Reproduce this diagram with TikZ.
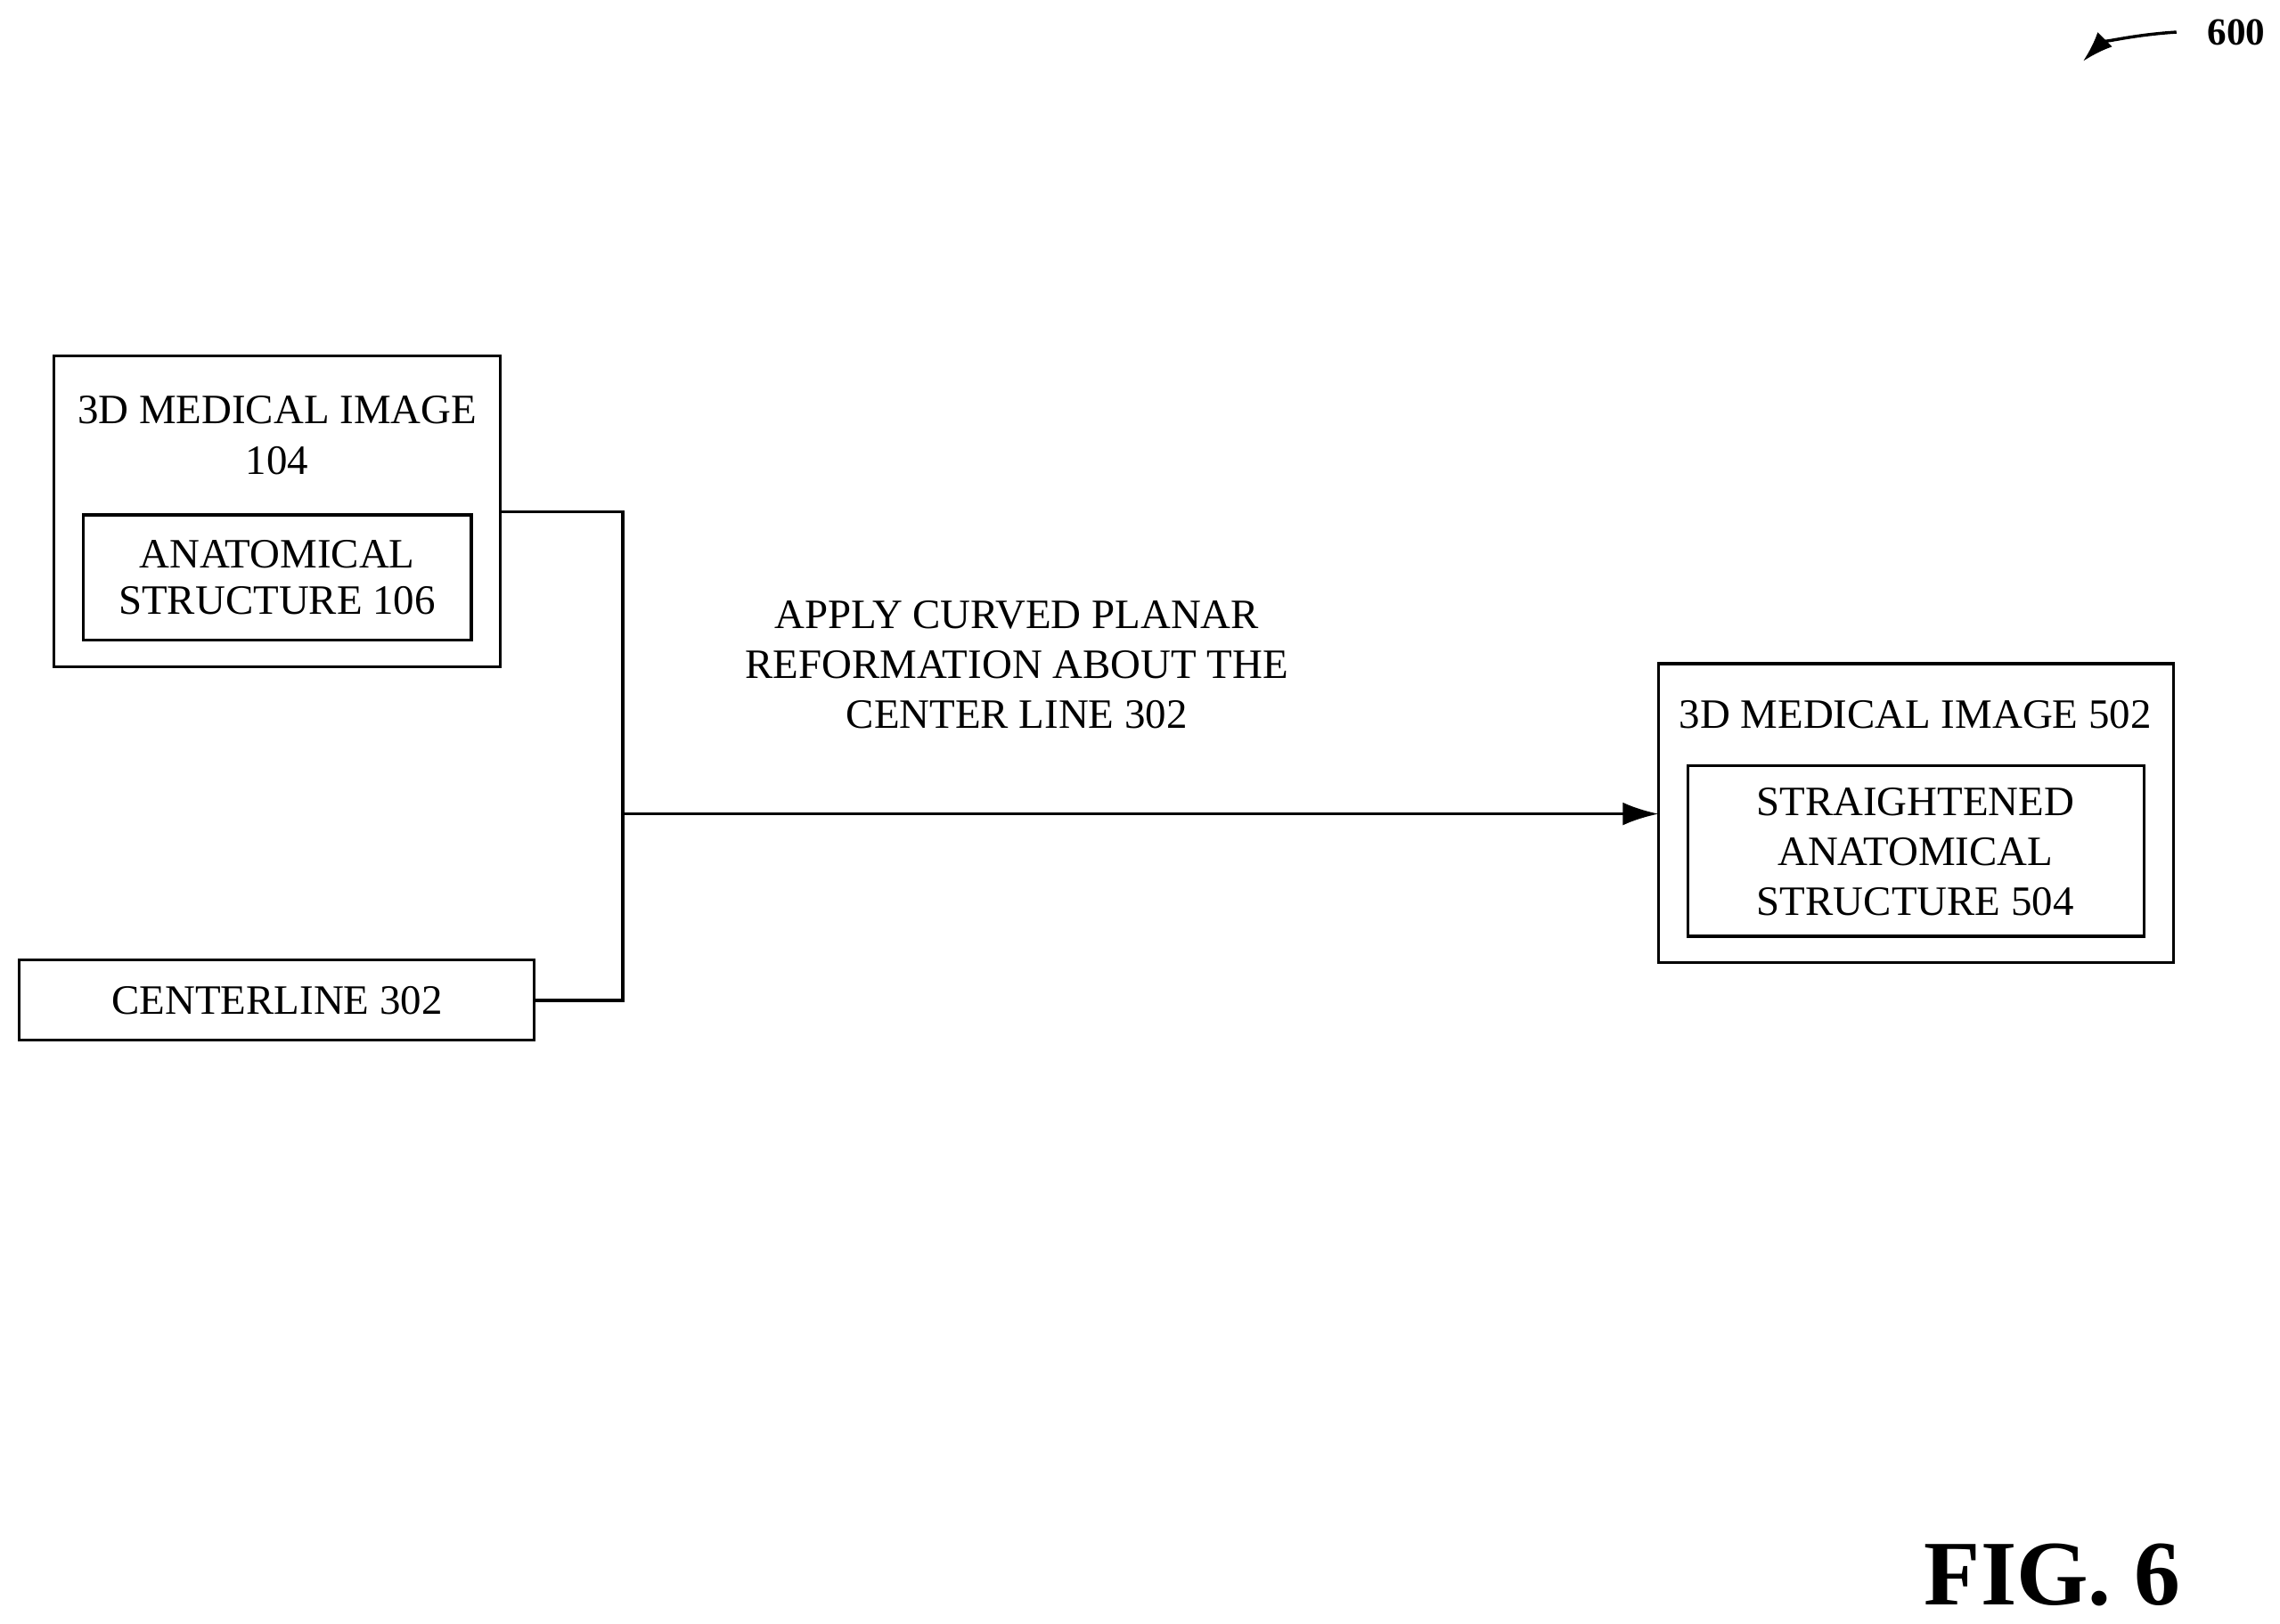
\documentclass[tikz,border=0pt]{standalone}
\usepackage{fontspec}
\usetikzlibrary{arrows.meta}
\setmainfont{Liberation Serif}
\begin{document}
\begin{tikzpicture}[x=0.02cm,y=-0.02cm,
  box/.style={draw,line width=1.2pt},
  txt/.style={font=\fontsize{16.3}{20}\selectfont,align=center,inner sep=0pt},
  ln/.style={line width=1.2pt}]
\useasboundingbox (0,0) rectangle (1563,1113);
\draw[box] (37,244) rectangle (343,457);
\node[txt] (t1) at (190,281) {3D MEDICAL IMAGE};
\node[txt] (t2) at (190,316) {104};
\draw[box] (57,353) rectangle (323,439);
\node[txt] (a106) at (190,396) {ANATOMICAL\\[-2pt]STRUCTURE 106};
\draw[box] (13,658) rectangle (366,713);
\node[txt] (cl) at (190,686) {CENTERLINE 302};
\coordinate (j1) at (343,351);
\coordinate (j2) at (366,686);
\coordinate (m) at (427,558);
\coordinate (r) at (1137,558);
\draw[ln] (j1) -- (427,351) -- (427,686) -- (j2);
\draw[ln,-{Latex[length=14pt,width=9pt]}] (m) -- (r);
\node[txt] (lab) at (697,456) {APPLY CURVED PLANAR\\[-0.5pt]REFORMATION ABOUT THE\\[-0.5pt]CENTER LINE 302};
\draw[box] (1137,455) rectangle (1490,660);
\node[txt] (t3) at (1313,490) {3D MEDICAL IMAGE 502};
\draw[box] (1157,525) rectangle (1470,642);
\node[txt] (s504) at (1313,584) {STRAIGHTENED\\[-0.5pt]ANATOMICAL\\[-0.5pt]STRUCTURE 504};
\node[txt,font=\bfseries\fontsize{15}{18}\selectfont] (n600) at (1533,22) {600};
\coordinate (a0) at (1492,22);
\coordinate (a1) at (1428,42);
\draw[line width=1.2pt,-{Latex[length=12pt,width=8pt]}] (a0) .. controls (1460,24) and (1440,30) .. (a1);
\node[txt,font=\bfseries\fontsize{36}{40}\selectfont] (fig) at (1407,1080) {FIG. 6};
\end{tikzpicture}
\end{document}
